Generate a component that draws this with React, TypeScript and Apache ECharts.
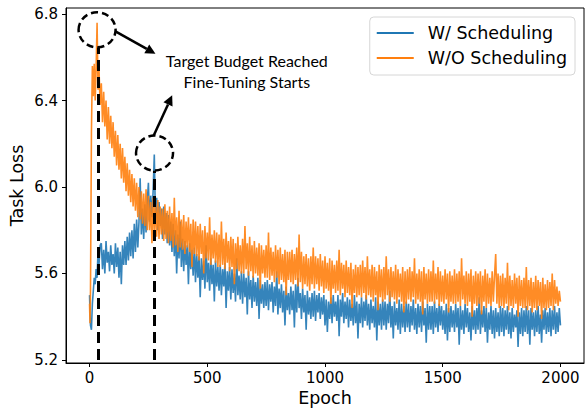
import React, { useEffect, useRef } from "react";
import * as echarts from "echarts";

// ---- data ----
const earlyEpochs = [0, 2, 4, 8, 12, 16, 20, 24, 28, 32, 36, 40, 45];
const blueEarly = [5.5, 5.42, 5.36, 5.34, 5.46, 5.52, 5.58, 5.55, 5.62, 5.58, 5.7, 5.64, 5.73];
const orangeEarly = [5.46, 5.37, 5.52, 6.25, 6.56, 6.42, 6.57, 6.4, 6.55, 6.76, 6.45, 6.55, 6.38];

// epochs 50, 55, 60, ... 2000 (every 5)
const blueLate = [
  5.74, 5.62, 5.71, 5.60, 5.75, 5.65, 5.70, 5.61, 5.73, 5.64,
  5.69, 5.60, 5.74, 5.63, 5.72, 5.58, 5.70, 5.55, 5.73, 5.64,
  5.75, 5.64, 5.77, 5.66, 5.79, 5.68, 5.80, 5.67, 5.83, 5.70,
  5.85, 5.72, 5.84, 6.04, 5.78, 5.90, 5.76, 5.92, 5.79, 5.93,
  6.02, 5.84, 5.96, 5.86, 5.98, 6.15, 5.85, 5.95, 5.80, 5.93,
  5.82, 5.90, 5.76, 5.91, 5.78, 5.88, 5.74, 5.87, 5.73, 5.84,
  5.70, 5.83, 5.68, 5.80, 5.60, 5.78, 5.67, 5.84, 5.63, 5.76,
  5.61, 5.75, 5.64, 5.73, 5.55, 5.74, 5.62, 5.71, 5.59, 5.72,
  5.56, 5.69, 5.58, 5.68, 5.49, 5.67, 5.57, 5.66, 5.53, 5.73,
  5.56, 5.65, 5.52, 5.67, 5.55, 5.64, 5.47, 5.66, 5.54, 5.63,
  5.52, 5.64, 5.50, 5.62, 5.54, 5.65, 5.44, 5.61, 5.52, 5.63,
  5.48, 5.62, 5.51, 5.60, 5.47, 5.67, 5.50, 5.59, 5.48, 5.61,
  5.46, 5.60, 5.49, 5.58, 5.41, 5.61, 5.48, 5.57, 5.44, 5.59,
  5.47, 5.56, 5.45, 5.58, 5.39, 5.57, 5.46, 5.55, 5.44, 5.56,
  5.45, 5.57, 5.43, 5.55, 5.47, 5.56, 5.42, 5.54, 5.45, 5.61,
  5.41, 5.53, 5.44, 5.55, 5.42, 5.52, 5.36, 5.54, 5.43, 5.51,
  5.41, 5.54, 5.43, 5.52, 5.35, 5.55, 5.42, 5.58, 5.44, 5.51,
  5.39, 5.53, 5.42, 5.50, 5.34, 5.52, 5.41, 5.49, 5.39, 5.51,
  5.40, 5.52, 5.38, 5.50, 5.42, 5.51, 5.39, 5.49, 5.41, 5.50,
  5.36, 5.48, 5.33, 5.47, 5.39, 5.49, 5.37, 5.50, 5.40, 5.47,
  5.38, 5.50, 5.31, 5.48, 5.40, 5.51, 5.37, 5.47, 5.39, 5.49,
  5.35, 5.48, 5.38, 5.46, 5.36, 5.50, 5.37, 5.47, 5.30, 5.46,
  5.37, 5.49, 5.35, 5.47, 5.38, 5.50, 5.36, 5.46, 5.34, 5.48,
  5.37, 5.45, 5.35, 5.49, 5.29, 5.47, 5.36, 5.46, 5.34, 5.48,
  5.36, 5.47, 5.34, 5.46, 5.37, 5.52, 5.35, 5.45, 5.30, 5.47,
  5.36, 5.44, 5.34, 5.48, 5.32, 5.46, 5.35, 5.45, 5.33, 5.47,
  5.35, 5.46, 5.33, 5.45, 5.36, 5.48, 5.34, 5.44, 5.32, 5.46,
  5.35, 5.45, 5.33, 5.47, 5.36, 5.44, 5.28, 5.46, 5.34, 5.45,
  5.34, 5.45, 5.32, 5.47, 5.35, 5.44, 5.33, 5.46, 5.36, 5.45,
  5.34, 5.43, 5.32, 5.46, 5.29, 5.44, 5.33, 5.45, 5.35, 5.43,
  5.33, 5.46, 5.35, 5.44, 5.27, 5.45, 5.34, 5.43, 5.32, 5.46,
  5.35, 5.44, 5.33, 5.42, 5.29, 5.45, 5.34, 5.43, 5.32, 5.44,
  5.34, 5.49, 5.32, 5.43, 5.35, 5.45, 5.33, 5.44, 5.28, 5.42,
  5.34, 5.45, 5.32, 5.43, 5.30, 5.44, 5.33, 5.42, 5.31, 5.45,
  5.33, 5.44, 5.31, 5.43, 5.34, 5.45, 5.32, 5.42, 5.30, 5.44,
  5.33, 5.41, 5.35, 5.43, 5.26, 5.42, 5.32, 5.44, 5.31, 5.43,
  5.33, 5.45, 5.32, 5.43, 5.27, 5.44, 5.34, 5.42, 5.31, 5.43,
  5.33, 5.45, 5.32, 5.41, 5.28, 5.43, 5.34, 5.44, 5.32, 5.42,
  5.33, 5.44, 5.31, 5.43, 5.34, 5.45, 5.32, 5.42, 5.33, 5.44,
  5.36,
];
const orangeLate = [
  6.48, 6.30, 6.44, 6.28, 6.40, 6.22, 6.37, 6.20, 6.33, 6.18,
  6.30, 6.14, 6.26, 6.10, 6.24, 6.08, 6.20, 6.04, 6.18, 6.02,
  6.14, 5.98, 6.11, 5.96, 6.08, 5.93, 6.06, 5.91, 6.04, 5.89,
  6.02, 5.86, 6.00, 5.85, 5.98, 5.83, 5.97, 5.82, 5.99, 5.80,
  5.96, 5.80, 5.93, 5.74, 5.95, 5.79, 5.92, 5.77, 5.94, 5.76,
  5.91, 5.78, 5.90, 5.75, 5.92, 5.76, 5.89, 5.74, 5.91, 5.75,
  5.88, 5.72, 5.95, 5.73, 5.86, 5.70, 5.89, 5.72, 5.85, 5.71,
  5.87, 5.69, 5.84, 5.72, 5.86, 5.70, 5.83, 5.63, 5.85, 5.69,
  5.84, 5.68, 5.82, 5.66, 5.83, 5.69, 5.80, 5.60, 5.82, 5.67,
  5.79, 5.66, 5.86, 5.64, 5.78, 5.67, 5.80, 5.65, 5.79, 5.63,
  5.78, 5.63, 5.84, 5.64, 5.76, 5.62, 5.79, 5.65, 5.75, 5.61,
  5.77, 5.63, 5.76, 5.55, 5.74, 5.62, 5.77, 5.61, 5.73, 5.60,
  5.76, 5.60, 5.82, 5.62, 5.74, 5.59, 5.77, 5.61, 5.73, 5.58,
  5.75, 5.60, 5.72, 5.59, 5.74, 5.53, 5.73, 5.60, 5.71, 5.58,
  5.73, 5.58, 5.79, 5.57, 5.72, 5.59, 5.70, 5.56, 5.73, 5.58,
  5.71, 5.55, 5.72, 5.57, 5.69, 5.56, 5.71, 5.50, 5.70, 5.57,
  5.70, 5.56, 5.71, 5.55, 5.69, 5.57, 5.72, 5.54, 5.78, 5.56,
  5.70, 5.53, 5.68, 5.55, 5.69, 5.54, 5.67, 5.52, 5.68, 5.55,
  5.72, 5.53, 5.68, 5.55, 5.67, 5.52, 5.69, 5.54, 5.66, 5.51,
  5.68, 5.53, 5.65, 5.52, 5.67, 5.46, 5.66, 5.53, 5.64, 5.51,
  5.66, 5.52, 5.71, 5.50, 5.65, 5.53, 5.64, 5.49, 5.66, 5.51,
  5.63, 5.50, 5.65, 5.44, 5.62, 5.51, 5.64, 5.49, 5.63, 5.50,
  5.64, 5.49, 5.66, 5.51, 5.63, 5.48, 5.68, 5.50, 5.62, 5.49,
  5.64, 5.47, 5.63, 5.50, 5.61, 5.43, 5.64, 5.49, 5.62, 5.47,
  5.63, 5.48, 5.68, 5.50, 5.62, 5.47, 5.63, 5.49, 5.61, 5.48,
  5.64, 5.46, 5.62, 5.49, 5.60, 5.47, 5.63, 5.42, 5.61, 5.46,
  5.62, 5.48, 5.63, 5.47, 5.61, 5.49, 5.67, 5.46, 5.60, 5.48,
  5.62, 5.47, 5.61, 5.41, 5.63, 5.48, 5.60, 5.46, 5.62, 5.47,
  5.61, 5.47, 5.66, 5.46, 5.60, 5.48, 5.63, 5.45, 5.61, 5.47,
  5.59, 5.46, 5.62, 5.48, 5.60, 5.42, 5.61, 5.47, 5.59, 5.46,
  5.62, 5.46, 5.60, 5.47, 5.61, 5.45, 5.67, 5.48, 5.59, 5.46,
  5.61, 5.45, 5.60, 5.47, 5.62, 5.40, 5.59, 5.46, 5.61, 5.45,
  5.60, 5.46, 5.61, 5.41, 5.59, 5.47, 5.62, 5.44, 5.60, 5.46,
  5.58, 5.45, 5.61, 5.47, 5.59, 5.69, 5.46, 5.60, 5.44, 5.59,
  5.45, 5.60, 5.44, 5.58, 5.46, 5.65, 5.43, 5.59, 5.45, 5.57,
  5.44, 5.60, 5.46, 5.58, 5.40, 5.59, 5.45, 5.57, 5.44, 5.58,
  5.44, 5.63, 5.43, 5.57, 5.45, 5.58, 5.42, 5.56, 5.44, 5.59,
  5.43, 5.57, 5.45, 5.56, 5.39, 5.58, 5.44, 5.55, 5.43, 5.57,
  5.44, 5.56, 5.45, 5.60, 5.43, 5.57, 5.46, 5.54, 5.45, 5.52,
  5.47,
];

const xTicks = [0, 500, 1000, 1500, 2000];
const yTicks = [5.2, 5.6, 6.0, 6.4, 6.8];
const seriesNames = ["W/ Scheduling", "W/O Scheduling"];

// annotation anchors (data coordinates)
const phaseEpochs = [36, 276];
const phaseLineTops = [6.645, 6.075];
const circleCenters = [[32, 6.727], [276, 6.157]];
const arrows = [
  { from: [110, 6.72], to: [280, 6.616] },
  { from: [272, 6.237], to: [351, 6.424] },
];
const noteAnchor = [668, 6.536];
const noteText = "Target Budget Reached\nFine-Tuning Starts";

export default function App() {
  const ref = useRef<HTMLDivElement>(null);
  useEffect(() => {
    const chart = echarts.init(ref.current!, null, { renderer: "svg" });
    const lateEpochs = blueLate.map((_, i) => 50 + 5 * i);
    const epochs = earlyEpochs.concat(lateEpochs);
    const blue = blueEarly.concat(blueLate);
    const orange = orangeEarly.concat(orangeLate);
    const blueData = epochs.map((e, i) => [e, blue[i]]);
    const orangeData = epochs.map((e, i) => [e, orange[i]]);

    const axisFont = { fontFamily: "DejaVu Sans", fontSize: 15, color: "#000" };
    const nameFont = { fontFamily: "DejaVu Sans", fontSize: 17.5, color: "#000" };

    chart.setOption({
      animation: false,
      grid: {
        left: 66, top: 8, right: 4, bottom: 47,
        show: true, borderColor: "#000", borderWidth: 1,
        containLabel: false, outerBoundsMode: "none",
      },
      legend: {
        data: seriesNames,
        orient: "vertical",
        right: 13, top: 17,
        padding: [6, 8, 7, 7],
        itemGap: 5,
        itemWidth: 37, itemHeight: 2,
        icon: "rect",
        backgroundColor: "rgba(255,255,255,0.8)",
        borderColor: "#d6d6d6", borderWidth: 1, borderRadius: 4,
        textStyle: { ...nameFont, lineHeight: 20, padding: [0, 0, 0, 9] },
      },
      xAxis: {
        type: "value", min: -100, max: 2100,
        name: "Epoch", nameLocation: "middle", nameGap: 26, nameTextStyle: nameFont,
        nameMoveOverlap: false,
        axisLine: { show: true, onZero: false, lineStyle: { color: "#000", width: 1 } },
        axisTick: { show: true, length: 4, lineStyle: { color: "#000" }, customValues: xTicks },
        axisLabel: { ...axisFont, margin: 7, customValues: xTicks, formatter: (v: number) => String(v) },
        splitLine: { show: false },
      },
      yAxis: {
        type: "value", min: 5.186, max: 6.828,
        name: "Task Loss", nameLocation: "middle", nameGap: 40, nameTextStyle: nameFont,
        nameMoveOverlap: false,
        axisLine: { show: true, onZero: false, lineStyle: { color: "#000", width: 1 } },
        axisTick: { show: true, length: 4, lineStyle: { color: "#000" }, customValues: yTicks },
        axisLabel: { ...axisFont, margin: 8, customValues: yTicks, formatter: (v: number) => v.toFixed(1) },
        splitLine: { show: false },
      },
      series: [
        {
          name: seriesNames[0], type: "line", data: blueData, showSymbol: false, symbol: "none",
          color: "#1f77b4", lineStyle: { width: 1.6, opacity: 0.9 },
        },
        {
          name: seriesNames[1], type: "line", data: orangeData, showSymbol: false, symbol: "none",
          color: "#ff7f0e", lineStyle: { width: 1.6, opacity: 0.9 },
          markLine: {
            silent: true, symbol: "none", label: { show: false },
            lineStyle: { color: "#000", type: [11, 6], width: 3, opacity: 1 },
            data: phaseEpochs.map((e, i) => [
              { coord: [e, 5.2] },
              { coord: [e, phaseLineTops[i]] },
            ]),
          },
        },
      ],
    });

    const px = (p: number[]) => chart.convertToPixel({ xAxisIndex: 0, yAxisIndex: 0 }, p) as number[];
    const graphics: any[] = [];
    circleCenters.forEach((c) => {
      const [cx, cy] = px(c);
      graphics.push({
        type: "ellipse", z: 100,
        shape: { cx, cy, rx: 18.5, ry: 17.5 },
        style: { fill: "none", stroke: "#000", lineWidth: 2.5, lineDash: [7, 4] },
      });
    });
    arrows.forEach((a) => {
      const [x1, y1] = px(a.from);
      const [x2, y2] = px(a.to);
      const dx = x2 - x1, dy = y2 - y1;
      const len = Math.hypot(dx, dy);
      const ux = dx / len, uy = dy / len;
      const hl = 10, hw = 5;
      const bx = x2 - ux * hl, by = y2 - uy * hl;
      graphics.push({
        type: "line", z: 100,
        shape: { x1, y1, x2: bx, y2: by },
        style: { stroke: "#000", lineWidth: 2.5 },
      });
      graphics.push({
        type: "polygon", z: 100,
        shape: { points: [[x2, y2], [bx - uy * hw, by + ux * hw], [bx + uy * hw, by - ux * hw]] },
        style: { fill: "#000" },
      });
    });
    const [tx, ty] = px(noteAnchor);
    graphics.push({
      type: "text", z: 100, x: tx, y: ty,
      style: {
        text: noteText, fontFamily: "Lato", fontSize: 16, fill: "#000",
        align: "center", verticalAlign: "middle", lineHeight: 21,
      },
    });
    chart.setOption({ graphic: graphics });

    return () => chart.dispose();
  }, []);
  return (
    <div
      ref={ref}
      style={{ position: "fixed", left: 0, top: 0, width: 588, height: 410, background: "#fff" }}
    />
  );
}
